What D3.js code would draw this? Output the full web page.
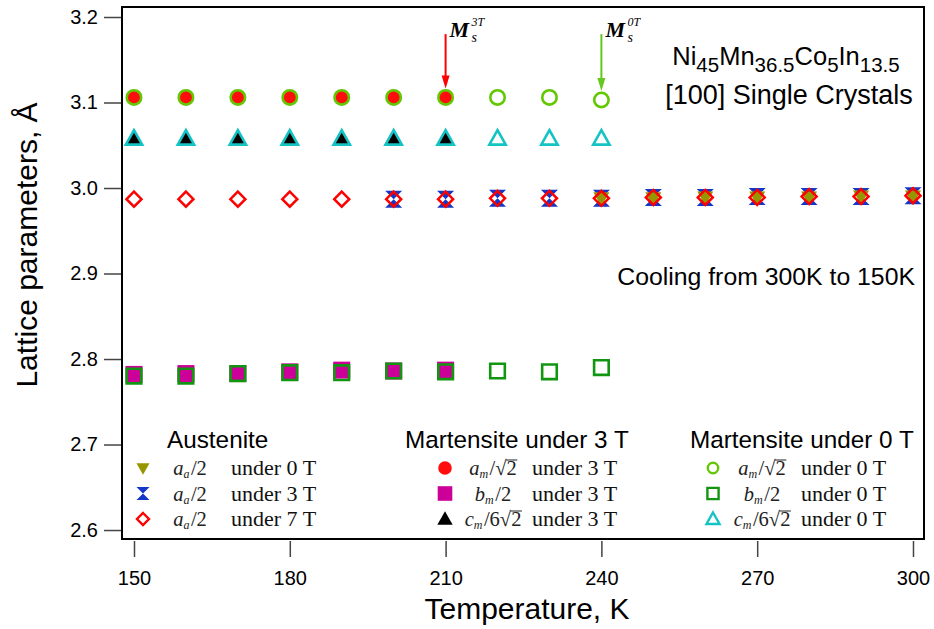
<!DOCTYPE html>
<html>
<head>
<meta charset="utf-8">
<script src="https://cdn.jsdelivr.net/npm/d3@7"></script>
<style>
  body { margin: 0; background: #fff; }
  svg text { font-family: Arial, "Liberation Sans", sans-serif; }
  .serif { font-family: "Times New Roman", "Liberation Serif", serif; }
</style>
</head>
<body>
<svg id="chart" width="934" height="629"></svg>
<script>
// ---- Data: lattice parameters (Å) versus temperature (K) ----
// Martensite measured under 3 T
const marTemps3T = [150, 160, 170, 180, 190, 200, 210];
const am3T = [3.106, 3.106, 3.106, 3.106, 3.106, 3.106, 3.106];
const bm3T = [2.782, 2.783, 2.783, 2.785, 2.787, 2.786, 2.787];
const cm3T = [3.058, 3.058, 3.058, 3.058, 3.058, 3.058, 3.058];

// Martensite measured under 0 T
const marTemps0T = [150, 160, 170, 180, 190, 200, 210, 220, 230, 240];
const am0T = [3.106, 3.106, 3.106, 3.106, 3.106, 3.106, 3.106, 3.106, 3.106, 3.103];
const bm0T = [2.780, 2.780, 2.783, 2.784, 2.784, 2.786, 2.785, 2.786, 2.785, 2.790];
const cm0T = [3.058, 3.058, 3.058, 3.058, 3.058, 3.058, 3.058, 3.058, 3.058, 3.058];

// Austenite a/2 under 7 T, 3 T and 0 T
const ausTemps7T = [150, 160, 170, 180, 190, 200, 210, 220, 230, 240, 250, 260, 270, 280, 290, 300];
const aa7T = [2.987, 2.987, 2.987, 2.987, 2.987, 2.987, 2.987, 2.988, 2.988, 2.988, 2.989, 2.989, 2.989, 2.990, 2.990, 2.991];
const ausTemps3T = [200, 210, 220, 230, 240, 250, 260, 270, 280, 290, 300];
const aa3T = [2.987, 2.987, 2.988, 2.988, 2.988, 2.989, 2.989, 2.990, 2.990, 2.990, 2.991];
const ausTemps0T = [240, 250, 260, 270, 280, 290, 300];
const aa0T = [2.988, 2.988, 2.989, 2.989, 2.989, 2.990, 2.990];

// Start temperatures of the martensitic transformation
const msTemps = [210, 240];
const msValues = [3.106, 3.103];
const msFields = ["3T", "0T"];

const xTicks = [150, 180, 210, 240, 270, 300];
const yTicks = [2.6, 2.7, 2.8, 2.9, 3.0, 3.1, 3.2];

// ---- Layout ----
const svg = d3.select("#chart");
const frame = { left: 122, right: 924, top: 7, bottom: 539 };

const x = d3.scaleLinear().domain([147.69, 302.12]).range([frame.left, frame.right]);
const y = d3.scaleLinear().domain([2.5895, 3.2117]).range([frame.bottom, frame.top]);

// ---- Marker shapes as d3 symbol types (size = half-width in px) ----
const sym = {
  circle: { draw(c, s) { c.moveTo(s, 0); c.arc(0, 0, s, 0, 2 * Math.PI); c.closePath(); } },
  square: { draw(c, s) { c.rect(-s, -s, 2 * s, 2 * s); } },
  triUp: { draw(c, s) { c.moveTo(0, -s * 1.05); c.lineTo(s * 1.05, s * 0.8); c.lineTo(-s * 1.05, s * 0.8); c.closePath(); } },
  triDown: { draw(c, s) { c.moveTo(0, s * 1.05); c.lineTo(s * 1.0, -s * 0.75); c.lineTo(-s * 1.0, -s * 0.75); c.closePath(); } },
  diamond: { draw(c, s) { c.moveTo(0, -s); c.lineTo(s, 0); c.lineTo(0, s); c.lineTo(-s, 0); c.closePath(); } },
  hourglass: { draw(c, s) { c.moveTo(-s, -s); c.lineTo(s, -s); c.lineTo(0, 0); c.lineTo(s, s); c.lineTo(-s, s); c.lineTo(0, 0); c.closePath(); } }
};

const colors = {
  olive: "#969600", blue: "#1437c8", red: "#ff0000",
  redFill: "#ff0d0d", magenta: "#cc0099", black: "#000000",
  lime: "#63c800", green: "#129612", cyan: "#14c3c3"
};

// Draw order: austenite, filled 3 T martensite, open 0 T martensite on top
const series = [
  { t: ausTemps3T, v: aa3T, shape: "hourglass", size: 8.5, fill: colors.blue, stroke: "none", sw: 0 },
  { t: ausTemps0T, v: aa0T, shape: "triDown", size: 8, fill: colors.olive, stroke: "none", sw: 0 },
  { t: ausTemps7T, v: aa7T, shape: "diamond", size: 7.5, fill: "none", stroke: colors.red, sw: 2.5 },
  { t: marTemps3T, v: am3T, shape: "circle", size: 7.5, fill: colors.redFill, stroke: "none", sw: 0 },
  { t: marTemps3T, v: bm3T, shape: "square", size: 8.5, fill: colors.magenta, stroke: "none", sw: 0 },
  { t: marTemps3T, v: cm3T, shape: "triUp", size: 8, fill: colors.black, stroke: "none", sw: 0 },
  { t: marTemps0T, v: am0T, shape: "circle", size: 7.2, fill: "none", stroke: colors.lime, sw: 2.6 },
  { t: marTemps0T, v: bm0T, shape: "square", size: 7.3, fill: "none", stroke: colors.green, sw: 2.6 },
  { t: marTemps0T, v: cm0T, shape: "triUp", size: 7.8, fill: "none", stroke: colors.cyan, sw: 2.6 }
];

// ---- Axes ----
const xAxis = svg.append("g")
  .attr("transform", `translate(0,${frame.bottom + 2})`)
  .call(d3.axisBottom(x).tickValues(xTicks).tickSize(16).tickPadding(14).tickFormat(d3.format("d")));
xAxis.select(".domain").remove();
xAxis.selectAll(".tick line").attr("stroke", "#444").attr("stroke-width", 1.5);
xAxis.selectAll(".tick text").attr("font-size", 20).attr("fill", "#000")
  .style("font-family", "Arial, 'Liberation Sans', sans-serif");

const yAxis = svg.append("g")
  .attr("transform", `translate(${frame.left},0)`)
  .call(d3.axisLeft(y).tickValues(yTicks).tickSize(18).tickPadding(6).tickFormat(d3.format(".1f")));
yAxis.select(".domain").remove();
yAxis.selectAll(".tick line").attr("stroke", "#444").attr("stroke-width", 1.5);
yAxis.selectAll(".tick text").attr("font-size", 20).attr("fill", "#000")
  .style("font-family", "Arial, 'Liberation Sans', sans-serif");

// Plot frame
svg.append("rect")
  .attr("x", frame.left).attr("y", frame.top)
  .attr("width", frame.right - frame.left).attr("height", frame.bottom - frame.top)
  .attr("fill", "none").attr("stroke", "#000").attr("stroke-width", 2);

// Axis titles
svg.append("text")
  .attr("x", 527).attr("y", 619)
  .attr("text-anchor", "middle").attr("font-size", 30)
  .text("Temperature, K");

svg.append("text")
  .attr("transform", `translate(37,${(frame.top + frame.bottom) / 2 - 28}) rotate(-90)`)
  .attr("text-anchor", "middle").attr("font-size", 30)
  .text("Lattice parameters, Å");

// ---- Data markers ----
const marks = svg.append("g");
series.forEach(s => {
  const pts = s.t.map((t, i) => ({ t, v: s.v[i] }));
  marks.append("g").selectAll("path").data(pts).join("path")
    .attr("transform", d => `translate(${x(d.t)},${y(d.v)})`)
    .attr("d", d3.symbol().type(sym[s.shape]).size(s.size))
    .attr("fill", s.fill)
    .attr("stroke", s.stroke)
    .attr("stroke-width", s.sw)
    .attr("stroke-linejoin", "miter");
});

// ---- Ms arrows ----
const arrowColors = [colors.red, "#66c81e"];
msTemps.forEach((t, i) => {
  const ax = x(t);
  const top = y(3.18);
  const tip = y(msValues[i]) - 9;
  const g = svg.append("g");
  g.append("line")
    .attr("x1", ax).attr("x2", ax).attr("y1", top).attr("y2", tip - 10)
    .attr("stroke", arrowColors[i]).attr("stroke-width", 2);
  g.append("path")
    .attr("d", `M${ax - 4},${tip - 13}L${ax + 4},${tip - 13}L${ax},${tip}Z`)
    .attr("fill", arrowColors[i]);
  g.append("text").attr("class", "serif")
    .attr("x", ax + 4).attr("y", 37)
    .attr("font-size", 22).attr("font-style", "italic").attr("font-weight", "bold")
    .text("M");
  g.append("text").attr("class", "serif")
    .attr("x", ax + 26).attr("y", 42)
    .attr("font-size", 14).attr("font-style", "italic")
    .text("s");
  g.append("text").attr("class", "serif")
    .attr("x", ax + 26).attr("y", 26)
    .attr("font-size", 12).attr("font-style", "italic")
    .text(msFields[i]);
});

// ---- Sample description ----
const title1 = svg.append("text").attr("x", 786).attr("y", 65)
  .attr("text-anchor", "middle").attr("font-size", 25.5);
[["Ni", false], ["45", true], ["Mn", false], ["36.5", true], ["Co", false], ["5", true], ["In", false], ["13.5", true]]
  .forEach(([txt, sub], i, arr) => {
    const prevSub = i > 0 && arr[i - 1][1];
    title1.append("tspan")
      .attr("font-size", sub ? 20.5 : 25.5)
      .attr("dy", sub ? 7 : (prevSub ? -7 : 0))
      .text(txt);
  });
svg.append("text").attr("x", 789).attr("y", 104)
  .attr("text-anchor", "middle").attr("font-size", 27)
  .text("[100] Single Crystals");

svg.append("text").attr("x", 915).attr("y", 285)
  .attr("text-anchor", "end").attr("font-size", 24.8)
  .text("Cooling from 300K to 150K");

// ---- Legend ----
const legendCols = [
  { header: "Austenite", hx: 167, mx: 143, cx: 190, ux: 231 },
  { header: "Martensite under 3 T", hx: 405, mx: 445, cx: 493, ux: 532 },
  { header: "Martensite under 0 T", hx: 690, mx: 713, cx: 762, ux: 801 }
];
const rowY = [468, 493.5, 519];

// math label pieces: [text, style] where style: i = italic, s = subscript, o = under a radical bar
const labelA = (sub) => [["a", "i"], [sub, "s"], ["/2", ""]];
const labelAm = [["a", "i"], ["m", "s"], ["/", ""], ["√", ""], ["2", "o"]];
const labelBm = [["b", "i"], ["m", "s"], ["/2", ""]];
const labelCm = [["c", "i"], ["m", "s"], ["/6", ""], ["√", ""], ["2", "o"]];

const legendItems = [
  { col: 0, row: 0, shape: "triDown", size: 6.5, fill: colors.olive, stroke: "none", sw: 0, label: labelA("a"), field: "under 0 T" },
  { col: 0, row: 1, shape: "hourglass", size: 6.5, fill: colors.blue, stroke: "none", sw: 0, label: labelA("a"), field: "under 3 T" },
  { col: 0, row: 2, shape: "diamond", size: 6, fill: "none", stroke: colors.red, sw: 2.4, label: labelA("a"), field: "under 7 T" },
  { col: 1, row: 0, shape: "circle", size: 6.8, fill: colors.redFill, stroke: "none", sw: 0, label: labelAm, field: "under 3 T" },
  { col: 1, row: 1, shape: "square", size: 7.3, fill: colors.magenta, stroke: "none", sw: 0, label: labelBm, field: "under 3 T" },
  { col: 1, row: 2, shape: "triUp", size: 7.3, fill: colors.black, stroke: "none", sw: 0, label: labelCm, field: "under 3 T" },
  { col: 2, row: 0, shape: "circle", size: 5.2, fill: "none", stroke: colors.lime, sw: 2.4, label: labelAm, field: "under 0 T" },
  { col: 2, row: 1, shape: "square", size: 5.6, fill: "none", stroke: colors.green, sw: 2.4, label: labelBm, field: "under 0 T" },
  { col: 2, row: 2, shape: "triUp", size: 6.2, fill: "none", stroke: colors.cyan, sw: 2.4, label: labelCm, field: "under 0 T" }
];

const legend = svg.append("g");
legendCols.forEach(c => {
  legend.append("text").attr("x", c.hx).attr("y", 448).attr("font-size", 24.3).text(c.header);
});

legendItems.forEach(it => {
  const c = legendCols[it.col];
  const ry = rowY[it.row];
  const base = ry + 7;
  legend.append("path")
    .attr("transform", `translate(${c.mx},${ry})`)
    .attr("d", d3.symbol().type(sym[it.shape]).size(it.size))
    .attr("fill", it.fill).attr("stroke", it.stroke).attr("stroke-width", it.sw);

  const t = legend.append("text").attr("class", "serif")
    .attr("x", c.cx).attr("y", base)
    .attr("text-anchor", "middle").attr("font-size", 20.5).attr("fill", "#222");
  let shifted = false;
  const radicands = [];
  it.label.forEach(([txt, st]) => {
    const span = t.append("tspan").text(txt);
    if (st === "i") span.attr("font-style", "italic");
    if (st === "s") {
      span.attr("font-size", 12).attr("font-style", "italic").attr("dy", 3);
      shifted = true;
    } else if (shifted) {
      span.attr("dy", -3).attr("dx", 1.5);
      shifted = false;
    }
    if (st === "o") radicands.push(span);
  });
  // radical bar over the "2"
  radicands.forEach(span => {
    const n = span.node();
    const x0 = n.getStartPositionOfChar(0).x;
    const x1 = n.getEndPositionOfChar(0).x;
    legend.append("line")
      .attr("x1", x0 - 0.5).attr("x2", x1 + 0.5)
      .attr("y1", base - 15).attr("y2", base - 15)
      .attr("stroke", "#222").attr("stroke-width", 1);
  });

  legend.append("text").attr("class", "serif")
    .attr("x", c.ux).attr("y", base)
    .attr("font-size", 22).attr("fill", "#111")
    .text(it.field);
});
</script>
</body>
</html>
